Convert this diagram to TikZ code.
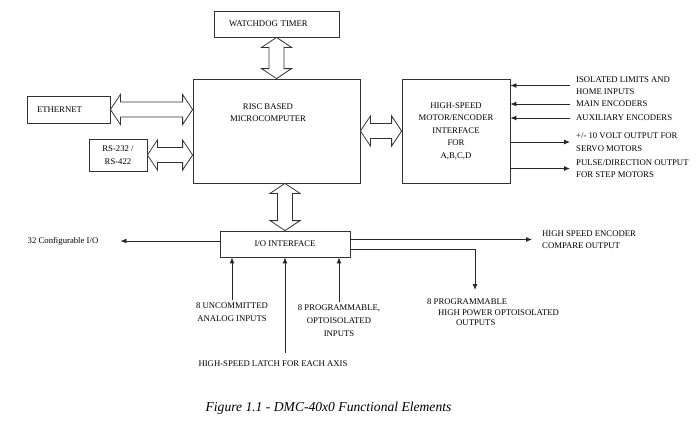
\documentclass[tikz,border=0pt]{standalone}
\usepackage{fontspec}
\setmainfont{Liberation Serif}
\usetikzlibrary{calc,arrows.meta}

\newcommand{\busheadlen}{10pt}
\newcommand{\busheadwid}{15pt}
\newcommand{\busshaftwid}{7.5pt}
% hollow double arrow, left to right
\newcommand{\hbus}[2]{%
  \draw[bus] let \p1=#1, \p2=#2 in
    (\p1) -- (\x1+\busheadlen,\y1+\busheadwid) -- (\x1+\busheadlen,\y1+\busshaftwid)
    -- (\x2-\busheadlen,\y1+\busshaftwid) -- (\x2-\busheadlen,\y1+\busheadwid)
    -- (\x2,\y1) -- (\x2-\busheadlen,\y1-\busheadwid) -- (\x2-\busheadlen,\y1-\busshaftwid)
    -- (\x1+\busheadlen,\y1-\busshaftwid) -- (\x1+\busheadlen,\y1-\busheadwid) -- cycle;}
% hollow double arrow, top to bottom
\newcommand{\vbus}[2]{%
  \draw[bus] let \p1=#1, \p2=#2 in
    (\p1) -- (\x1+\busheadwid,\y1-\busheadlen) -- (\x1+\busshaftwid,\y1-\busheadlen)
    -- (\x1+\busshaftwid,\y2+\busheadlen) -- (\x1+\busheadwid,\y2+\busheadlen)
    -- (\x1,\y2) -- (\x1-\busheadwid,\y2+\busheadlen) -- (\x1-\busshaftwid,\y2+\busheadlen)
    -- (\x1-\busshaftwid,\y1-\busheadlen) -- (\x1-\busheadwid,\y1-\busheadlen) -- cycle;}

\begin{document}
\begin{tikzpicture}[x=1pt, y=-1pt,
    every node/.style={font=\fontsize{8.7}{12.5}\selectfont, inner sep=1pt},
    box/.style={draw=black!80, line width=0.8pt, rectangle, inner sep=0pt},
    wire/.style={draw=black!85, line width=0.9pt, -{Latex[length=6pt,width=5pt]}},
    bus/.style={draw=black!80, line width=0.8pt, fill=white, line join=miter}]
    \useasboundingbox (0,0) rectangle (700,423);

    % blocks
    \node[box, minimum width=125, minimum height=26, text width=95, align=left, inner xsep=15] (wd) at (276.5,24) {WATCHDOG TIMER};
    \node[box, minimum width=83, minimum height=27, text width=63, align=left, inner xsep=10] (eth) at (68.5,109.5) {ETHERNET};
    \node[box, minimum width=58, minimum height=32, align=center] (rs) at (118,155) {RS-232 /\\RS-422};
    \node[box, minimum width=167, minimum height=104] (mc) at (276.5,131) {};
    \node[align=center, font=\fontsize{8.7}{11.5}\selectfont] (mctext) at (268,112.5) {RISC BASED\\MICROCOMPUTER};
    \node[box, minimum width=108, minimum height=104, align=center] (mt) at (456,131) {HIGH-SPEED\\MOTOR/ENCODER\\INTERFACE\\FOR\\A,B,C,D};
    \node[box, minimum width=130, minimum height=26] (io) at (285,244) {I/O INTERFACE};

    % buses
    \vbus{(wd.south)}{(mc.north)}
    \hbus{(eth.east)}{(eth.east -| mc.west)}
    \hbus{(rs.east)}{(rs.east -| mc.west)}
    \hbus{(mc.east)}{(mt.west)}
    \vbus{(io.north |- mc.south)}{(io.north)}

    % motor side signals
    \node[anchor=west, align=left, inner xsep=6pt] (lim) at (570,85.5) {ISOLATED LIMITS AND\\HOME INPUTS};
    \node[anchor=west, inner xsep=6pt] (enc) at (570,104) {MAIN ENCODERS};
    \node[anchor=west, inner xsep=6pt] (aux) at (570,118) {AUXILIARY ENCODERS};
    \node[anchor=west, align=left, inner xsep=6pt] (servo) at (570,142) {+/- 10 VOLT OUTPUT FOR\\SERVO MOTORS};
    \node[anchor=west, align=left, inner xsep=6pt] (step) at (570,168.5) {PULSE/DIRECTION OUTPUT\\FOR STEP MOTORS};
    \foreach \n in {lim,enc,aux} {
        \draw[wire] (\n.west) -- (\n.west -| mt.east);
    }
    \foreach \n in {servo,step} {
        \draw[wire] (\n.west -| mt.east) -- (\n.west);
    }

    % I/O side signals
    \node (cfg) at (63,241) {32 Configurable I/O};
    \draw[wire, shorten >=21pt] (io.west |- cfg.east) -- (cfg.east);
    \node[anchor=west, align=left] (cmp) at (541,239.5) {HIGH SPEED ENCODER\\COMPARE OUTPUT};
    \draw[wire, shorten >=9pt] (io.east |- cmp.west) -- (cmp.west);
    \node[anchor=west, align=left, font=\fontsize{8.7}{10.5}\selectfont] (hpo) at (426,312.5) {8 PROGRAMMABLE\\\hspace{11pt}HIGH POWER OPTOISOLATED\\\hspace{29pt}OUTPUTS};
    \coordinate (hpoin) at (475,290);
    \draw[wire] ([yshift=-5pt]io.east) -| (hpoin);

    \node[align=center] (ana) at (232,312) {8 UNCOMMITTED\\ANALOG INPUTS};
    \node[align=center, font=\fontsize{8.7}{13}\selectfont] (opt) at (339,321) {8 PROGRAMMABLE,\\OPTOISOLATED\\INPUTS};
    \node (latch) at (273,364) {HIGH-SPEED LATCH FOR EACH AXIS};
    \foreach \n in {ana,opt} {
        \draw[wire, shorten <=2pt] (\n.north) -- (\n.north |- io.south);
    }
    \draw[wire, shorten <=7pt] (latch.north -| io.south) -- (io.south);

    % caption
    \node (cap) at (328.5,408) {\fontsize{13.6}{16}\selectfont\itshape Figure 1.1 - DMC-40x0 Functional Elements};
\end{tikzpicture}
\end{document}
